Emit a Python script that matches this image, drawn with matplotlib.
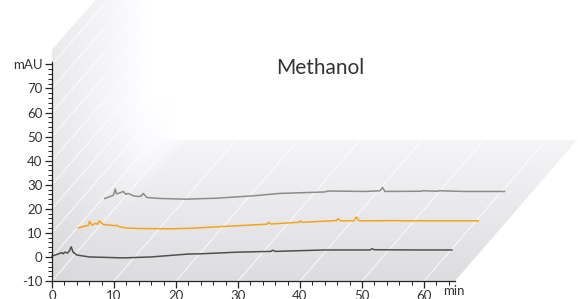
import numpy as np
import matplotlib
matplotlib.use("Agg")
import matplotlib.pyplot as plt
from matplotlib.patches import Polygon

plt.rcParams['font.family'] = ['Lato', 'DejaVu Sans']

# chromatogram traces (time in min, signal in mAU), front to back
t1 = [0, 1.0, 1.6, 1.8, 2.1, 2.5, 2.8, 3.1, 3.4, 4.0, 6.0, 11.5, 16, 22, 24, 30, 35.3, 35.6, 36.0, 44, 51.3, 51.6, 52.0, 58, 64.5]
s1 = [0.4, 1.2, 1.8, 1.3, 2.0, 1.6, 2.5, 4.2, 2.0, 0.8, 0.0, -0.4, 0.0, 1.2, 1.3, 2.0, 2.3, 2.8, 2.3, 2.9, 2.9, 3.4, 3.0, 2.9, 2.9]

t2 = [0, 1.0, 1.6, 1.8, 2.2, 2.8, 3.1, 3.4, 4.0, 5.9, 6.2, 6.6, 7.7, 10, 15.2, 18, 26, 30.4, 30.7, 31.0, 35.6, 35.8, 36.1, 40, 41.6, 41.9, 42.3, 44.4, 44.8, 45.3, 47, 51.5, 52, 58, 64.5]
s2 = [0.1, 0.8, 1.1, 2.8, 1.2, 2.0, 1.6, 3.0, 1.5, 1.0, 1.1, 0.6, 0.0, -0.2, -0.3, -0.1, 1.0, 1.6, 2.4, 1.7, 2.4, 3.0, 2.4, 2.9, 3.1, 3.9, 3.0, 3.0, 4.6, 3.0, 3.0, 3.1, 3.0, 3.0, 3.0]

t3 = [0, 1.4, 1.7, 1.9, 2.4, 3.0, 3.4, 3.8, 4.6, 5.3, 5.9, 6.2, 6.8, 8.8, 13, 18, 24, 28.3, 35.5, 36, 42, 44.4, 44.8, 45.2, 51, 51.3, 53.7, 54.0, 58, 64.5]
s3 = [0.3, 1.6, 4.2, 2.2, 2.6, 3.2, 2.0, 2.4, 1.4, 1.1, 1.3, 2.4, 0.7, 0.3, 0.0, 0.4, 1.4, 2.4, 3.0, 3.4, 3.2, 3.5, 4.9, 3.2, 3.3, 3.5, 3.3, 3.5, 3.2, 3.2]

traces = [(t1, s1, '#505050'), (t2, s2, '#f5a31c'), (t3, s3, '#8c8c8c')]
trace_shift = (4.25, 12.0)       # time / mAU offset between stacked runs

xticks = list(range(0, 61, 10))
yticks = list(range(-10, 81, 10))
ylabels = [str(v) for v in yticks[:-1]] + ['mAU']

xmax, ymin, ymax = 65, -10, 81
depth = (19.7, 58.6)             # projection of the depth axis in data units

fig = plt.figure(figsize=(5.78, 2.99), dpi=100)
ax = fig.add_axes([52 / 578, 18 / 299, 403 / 578, 219 / 299])
ax.set_xlim(0, xmax)
ax.set_ylim(ymin, ymax)
ax.set_facecolor('none')

# shaded back wall + floor
dx, dy = depth
outline = [(0, ymin), (xmax, ymin), (xmax + dx, ymin + dy), (dx, ymin + dy),
           (dx, 86 + dy), (0, 86)]
clip = Polygon(outline, closed=True, transform=ax.transData, facecolor='none', edgecolor='none')
ax.add_patch(clip)

ex0, ex1, ey0, ey1 = 0, 86, ymin, 112
gx = np.linspace(ex0, ex1, 500)
gy = np.linspace(ey0, ey1, 500)
GX, GY = np.meshgrid(gx, gy)
px = 52 + GX * 6.2                     # rough pixel position, only for the shading
py = 281 - (GY - ymin) * 2.39
edge = 52 + (281 - py) * 122 / 140
fade = np.clip((185 - px) / 70, 0, 1)
wall_d = np.hypot(0.22 * np.clip(150 - px, 0, None), 0.19 * np.clip(py - 100, 0, None) * fade)
floor_d = np.hypot(10 + 0.17 * (py - 141), 0.1 * np.clip(200 - px, 0, None))
wf = np.where(py > 141, np.clip((px - edge) / 30 + 0.5, 0, 1), 0)
shade = 255 - (wall_d * (1 - wf) + floor_d * wf)
shade = np.clip(shade, 200, 255) / 255.0
rgb = np.dstack([shade, shade, np.clip(shade + 0.008, 0, 1)])
im = ax.imshow(rgb, extent=(ex0, ex1, ey0, ey1), origin='lower', aspect='auto',
               interpolation='bilinear', zorder=0)
im.set_clip_box(fig.bbox)
im.set_clip_path(clip)

# grid lines running into the depth
for x in xticks:
    ax.plot([x, x + dx], [ymin, ymin + dy], color='white', lw=0.7, alpha=0.85,
            clip_on=False, zorder=1)
for y in yticks[1:]:
    ax.plot([0, dx], [y, y + dy], color='white', lw=0.7, alpha=0.85,
            clip_on=False, zorder=1)

for i, (t, s, c) in enumerate(traces):
    ox, oy = trace_shift[0] * i, trace_shift[1] * i
    ax.plot(np.array(t) + ox, np.array(s) + oy, color=c, lw=1.1, clip_on=False, zorder=3)

for side in ['top', 'right']:
    ax.spines[side].set_visible(False)
for side in ['left', 'bottom']:
    ax.spines[side].set_color('#222222')
    ax.spines[side].set_linewidth(0.9)
    ax.spines[side].set_zorder(4)

ax.set_xticks(xticks)
ax.set_xticks(np.arange(0, 65, 2), minor=True)
ax.set_yticks(yticks)
ax.set_yticklabels(ylabels)
ax.set_yticks(np.arange(-10, 81, 2), minor=True)
ax.tick_params(which='major', length=5, width=0.9, color='#222222', labelsize=9.5,
               labelcolor='#333333', pad=2)
ax.tick_params(axis='x', which='major', pad=1.5)
ax.tick_params(which='minor', length=3, width=0.7, color='#222222')
ax.text(64.8, -0.02, 'min', transform=ax.get_xaxis_transform(), ha='center', va='top',
        fontsize=9.5, color='#333333')

fig.text(320 / 578, 1 - 68 / 299, 'Methanol', ha='center', va='center', fontsize=15,
         color='#333333')

fig.savefig('out.png', dpi=100)
